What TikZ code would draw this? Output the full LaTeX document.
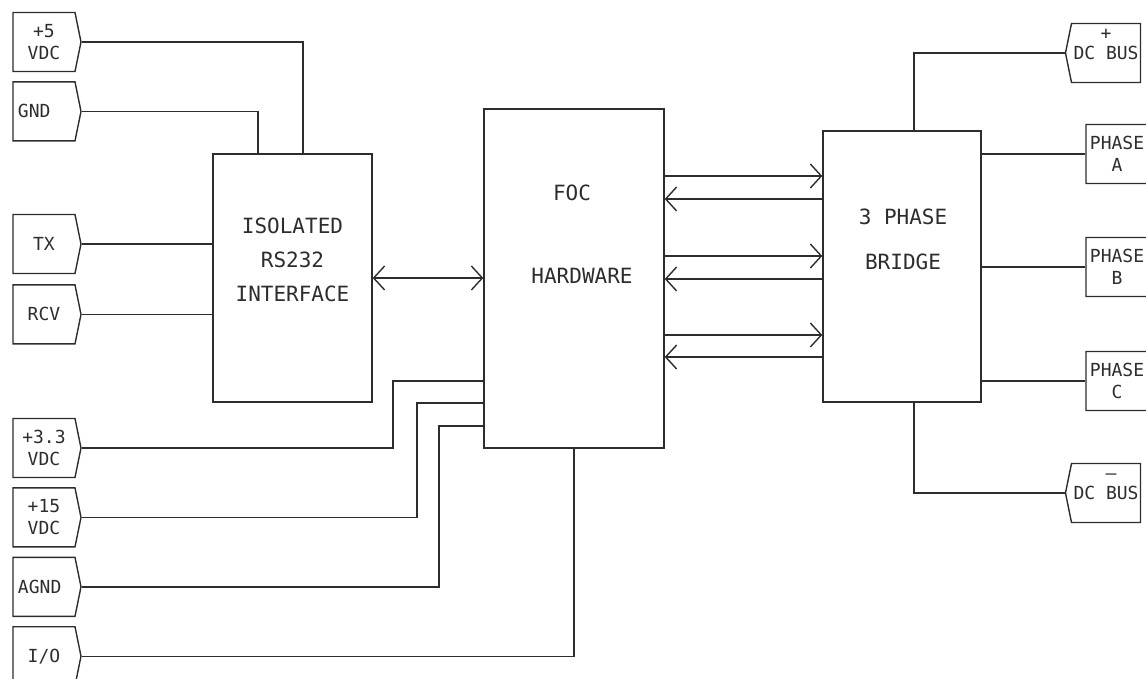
\documentclass[tikz,border=0pt]{standalone}
\usepackage{fontspec}
\newfontfamily\cadfont{DejaVu Sans Mono}
\usetikzlibrary{shapes.symbols, arrows.meta, positioning, calc}
\definecolor{ink}{RGB}{45, 45, 45}

\begin{document}
\begin{tikzpicture}[
  x=0.5pt, y=-0.5pt, color=ink, line width=0.7pt,
  node distance=4.5pt,
  blk/.style={rectangle, draw, inner sep=0pt},
  txt/.style={align=center, font=\cadfont\fontsize{10.5}{17}\selectfont},
  pin/.style={signal, signal to=east, signal pointer angle=157, draw,
              minimum width=34pt, minimum height=29.5pt, inner sep=1pt,
              align=center, font=\cadfont\fontsize{9}{11}\selectfont},
  pinl/.style={pin, signal to=west},
  sign/.style={inner sep=0pt, font=\cadfont\fontsize{9}{11}\selectfont},
  arr/.style={-{Straight Barb[length=5.5pt, width=12pt]}},
  rarr/.style={{Straight Barb[length=5.5pt, width=12pt]}-},
  dbl/.style={{Straight Barb[length=5.5pt, width=12pt]}-{Straight Barb[length=5.5pt, width=12pt]}}
]
  \useasboundingbox (0,0) rectangle (1146,679);

  % main blocks
  \node[blk, minimum width=79.5pt, minimum height=124pt] (iso) at (292.5,278) {};
  \node[txt] (isotxt) at (292.5,260) {ISOLATED\\RS232\\INTERFACE};
  \node[blk, minimum width=90pt, minimum height=169.5pt] (foc) at (574,278.5) {};
  \node[txt] (foctxt) at (572,193) {FOC};
  \node[txt] (hwtxt) at (582,276) {HARDWARE};
  \node[blk, minimum width=79pt, minimum height=135.5pt] (bridge) at (902,266.5) {};
  \node[txt] (brtxt) at (903,239.5) {3 PHASE\\[5.5pt]BRIDGE};

  % left connectors
  \node[pin] (v5) at (44,42) {+5\\VDC};
  \node[pin, below=of v5, align=left, text width=26pt] (gnd) {GND};
  \node[pin] (tx) at (44,244) {TX};
  \node[pin, below=5pt of tx] (rcv) {RCV};
  \node[pin] (v33) at (44,448) {+3.3\\VDC};
  \node[pin, below=of v33] (v15) {+15\\VDC};
  \node[pin, below=of v15, align=left, text width=26pt] (agnd) {AGND};
  \node[pin, below=of agnd] (io) {I/O};

  % right connectors
  \node[pinl] (dcp) at (1106,53) {DC\ BUS};
  \node[sign] (dcpsign) at ([yshift=9.5pt]dcp.center) {+};
  \node[pin] (pha) at (1117,154) {PHASE\\A};
  \node[pin] (phb) at (1117,267) {PHASE\\B};
  \node[pin] (phc) at (1117,381) {PHASE\\C};
  \node[pinl] (dcm) at (1106,493) {DC\ BUS};
  \node[sign] (dcmsign) at ([xshift=2.5pt, yshift=8pt]dcm.center) {\textendash};

  % wiring to the RS232 interface
  \draw (v5.east) -| ([xshift=5.25pt]iso.north);
  \draw (gnd.east) -| ([xshift=-17.25pt]iso.north);
  \draw (tx.east) -- (tx.east -| iso.west);
  \draw (rcv.east) -- (rcv.east -| iso.west);
  \draw[dbl] (iso.east) -- (iso.east -| foc.west);

  % supplies into the FOC block
  \coordinate (k33) at (393,381);
  \coordinate (k15) at (417,403);
  \coordinate (kag) at (439,426);
  \draw (v33.east) -| (k33) -- (k33 -| foc.west);
  \draw (v15.east) -| (k15) -- (k15 -| foc.west);
  \draw (agnd.east) -| (kag) -- (kag -| foc.west);
  \draw (io.east) -| (foc.south);

  % FOC <-> bridge
  \foreach \yy/\tip in {176/arr, 199/rarr, 256/arr, 279/rarr, 335/arr, 357/rarr}
    \draw[\tip] (foc.east |- 0,\yy) -- (bridge.west |- 0,\yy);

  % bridge outputs
  \draw (dcp.west) -| ([xshift=6pt]bridge.north);
  \draw (bridge.east |- pha.west) -- (pha.west);
  \draw (bridge.east |- phb.west) -- (phb.west);
  \draw (bridge.east |- phc.west) -- (phc.west);
  \draw ([xshift=6pt]bridge.south) |- (dcm.west);
\end{tikzpicture}
\end{document}
